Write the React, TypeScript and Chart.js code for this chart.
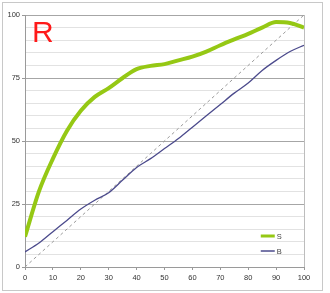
import React, { useEffect, useRef } from "react";
import { Chart, registerables } from "chart.js";

Chart.register(...registerables);

const xValues = [0, 5, 10, 15, 20, 25, 30, 35, 40, 45, 50, 55, 60, 65, 70, 75, 80, 85, 90, 95, 100];
const sValues = [12, 30, 43, 54, 62, 67.5, 71, 75, 78.5, 79.8, 80.5, 82, 83.5, 85.5, 88, 90.3, 92.5, 95, 97.2, 96.8, 95];
const bValues = [6, 9.5, 14, 18.5, 23, 26.5, 29.5, 34.5, 39.5, 43, 47, 51, 55.5, 60, 64.5, 69, 73, 78, 82, 85.5, 88];
const diagX = [0, 100];
const diagY = [0, 100];
const xTicks = [0, 10, 20, 30, 40, 50, 60, 70, 80, 90, 100];
const yLabelTicks = [0, 25, 50, 75, 100];
const seriesNames = ["S", "B"];
const titleText = "R";

const GREEN = "#95c814";
const BLUE = "#4b4a8c";

const framePlugin = {
  id: "frame",
  beforeDraw(chart: any) {
    const ctx = chart.ctx;
    ctx.save();
    ctx.fillStyle = "#ffffff";
    ctx.fillRect(0, 0, chart.width, chart.height);
    ctx.strokeStyle = "#c8c8c8";
    ctx.lineWidth = 1;
    ctx.strokeRect(2.5, 2.5, 320, 288);
    ctx.restore();
  },
  afterDatasetsDraw(chart: any) {
    const ctx = chart.ctx;
    const a = chart.chartArea;
    ctx.save();
    ctx.strokeStyle = "#bdbdbd";
    ctx.lineWidth = 1;
    ctx.beginPath();
    ctx.moveTo(Math.round(a.right) + 0.5, a.top);
    ctx.lineTo(Math.round(a.right) + 0.5, a.bottom);
    ctx.stroke();
    // legend
    const items = [
      { label: seriesNames[0], color: GREEN, w: 3 },
      { label: seriesNames[1], color: BLUE, w: 1.5 },
    ];
    const x0 = a.left + (a.right - a.left) * 0.845;
    const yBase = a.top + (a.bottom - a.top) * 0.877;
    ctx.font = "7.5px 'Liberation Sans', Arial, sans-serif";
    ctx.textBaseline = "middle";
    items.forEach((it, i) => {
      const y = yBase + i * 15;
      ctx.strokeStyle = it.color;
      ctx.lineWidth = it.w;
      ctx.beginPath();
      ctx.moveTo(x0, y);
      ctx.lineTo(x0 + 14, y);
      ctx.stroke();
      ctx.fillStyle = "#444";
      ctx.fillText(it.label, x0 + 16, y + 0.5);
    });
    ctx.restore();
  },
};

export default function App() {
  const ref = useRef<HTMLCanvasElement | null>(null);
  useEffect(() => {
    if (!ref.current) return;
    const chart = new Chart(ref.current, {
      type: "line",
      data: {
        datasets: [
          {
            label: seriesNames[0],
            data: xValues.map((x, i) => ({ x, y: sValues[i] })),
            borderColor: GREEN,
            borderWidth: 4,
            pointRadius: 0,
            tension: 0.4,
            cubicInterpolationMode: "monotone",
            order: 1,
          },
          {
            label: seriesNames[1],
            data: xValues.map((x, i) => ({ x, y: bValues[i] })),
            borderColor: BLUE,
            borderWidth: 1.3,
            pointRadius: 0,
            tension: 0.4,
            cubicInterpolationMode: "monotone",
            order: 2,
          },
          {
            label: "diag",
            data: diagX.map((x, i) => ({ x, y: diagY[i] })),
            borderColor: "#9a9a9a",
            borderWidth: 1,
            borderDash: [3, 3],
            pointRadius: 0,
            order: 3,
          },
        ],
      },
      options: {
        animation: false,
        responsive: false,
        maintainAspectRatio: false,
        layout: { padding: { left: 0, top: 15, right: 26, bottom: 0 } },
        plugins: { legend: { display: false }, tooltip: { enabled: false }, title: { display: false } },
        scales: {
          x: {
            type: "linear",
            min: 0,
            max: 100,
            afterFit: (s: any) => { s.height = 26; },
            afterBuildTicks: (s: any) => { s.ticks = xTicks.map((v) => ({ value: v })); },
            ticks: {
              font: { size: 7.5, family: "'Liberation Sans', Arial, sans-serif" },
              color: "#333",
              padding: 3,
              maxRotation: 0,
              autoSkip: false,
            },
            grid: { drawOnChartArea: false, drawTicks: true, tickLength: 3, color: "#999" },
            border: { color: "#9a9a9a" },
          },
          y: {
            type: "linear",
            min: 0,
            max: 100,
            afterFit: (s: any) => { s.width = 25; },
            ticks: {
              stepSize: 5,
              font: { size: 7.5, family: "'Liberation Sans', Arial, sans-serif" },
              color: "#333",
              padding: 2,
              autoSkip: false,
              callback: (v: any) => (yLabelTicks.includes(Number(v)) ? String(v) : ""),
            },
            grid: {
              color: (c: any) => (c.tick && c.tick.value % 25 === 0 ? "#a6a6a6" : "#e2e2e2"),
              tickColor: (c: any) => (c.tick && c.tick.value % 25 === 0 ? "#999" : "rgba(0,0,0,0)"),
              tickLength: 3,
            },
            border: { color: "#9a9a9a" },
          },
        },
      },
      plugins: [framePlugin],
    } as any);
    return () => chart.destroy();
  }, []);
  return (
    <div style={{ position: "absolute", left: 0, top: 0, width: 330, height: 293 }}>
      <canvas ref={ref} width={330} height={293} style={{ display: "block" }} />
      <div
        style={{
          position: "absolute",
          left: 32,
          top: 15,
          fontFamily: "'Liberation Sans', Arial, sans-serif",
          fontSize: 30,
          lineHeight: "34px",
          color: "#ff1a1a",
        }}
      >
        {titleText}
      </div>
    </div>
  );
}
